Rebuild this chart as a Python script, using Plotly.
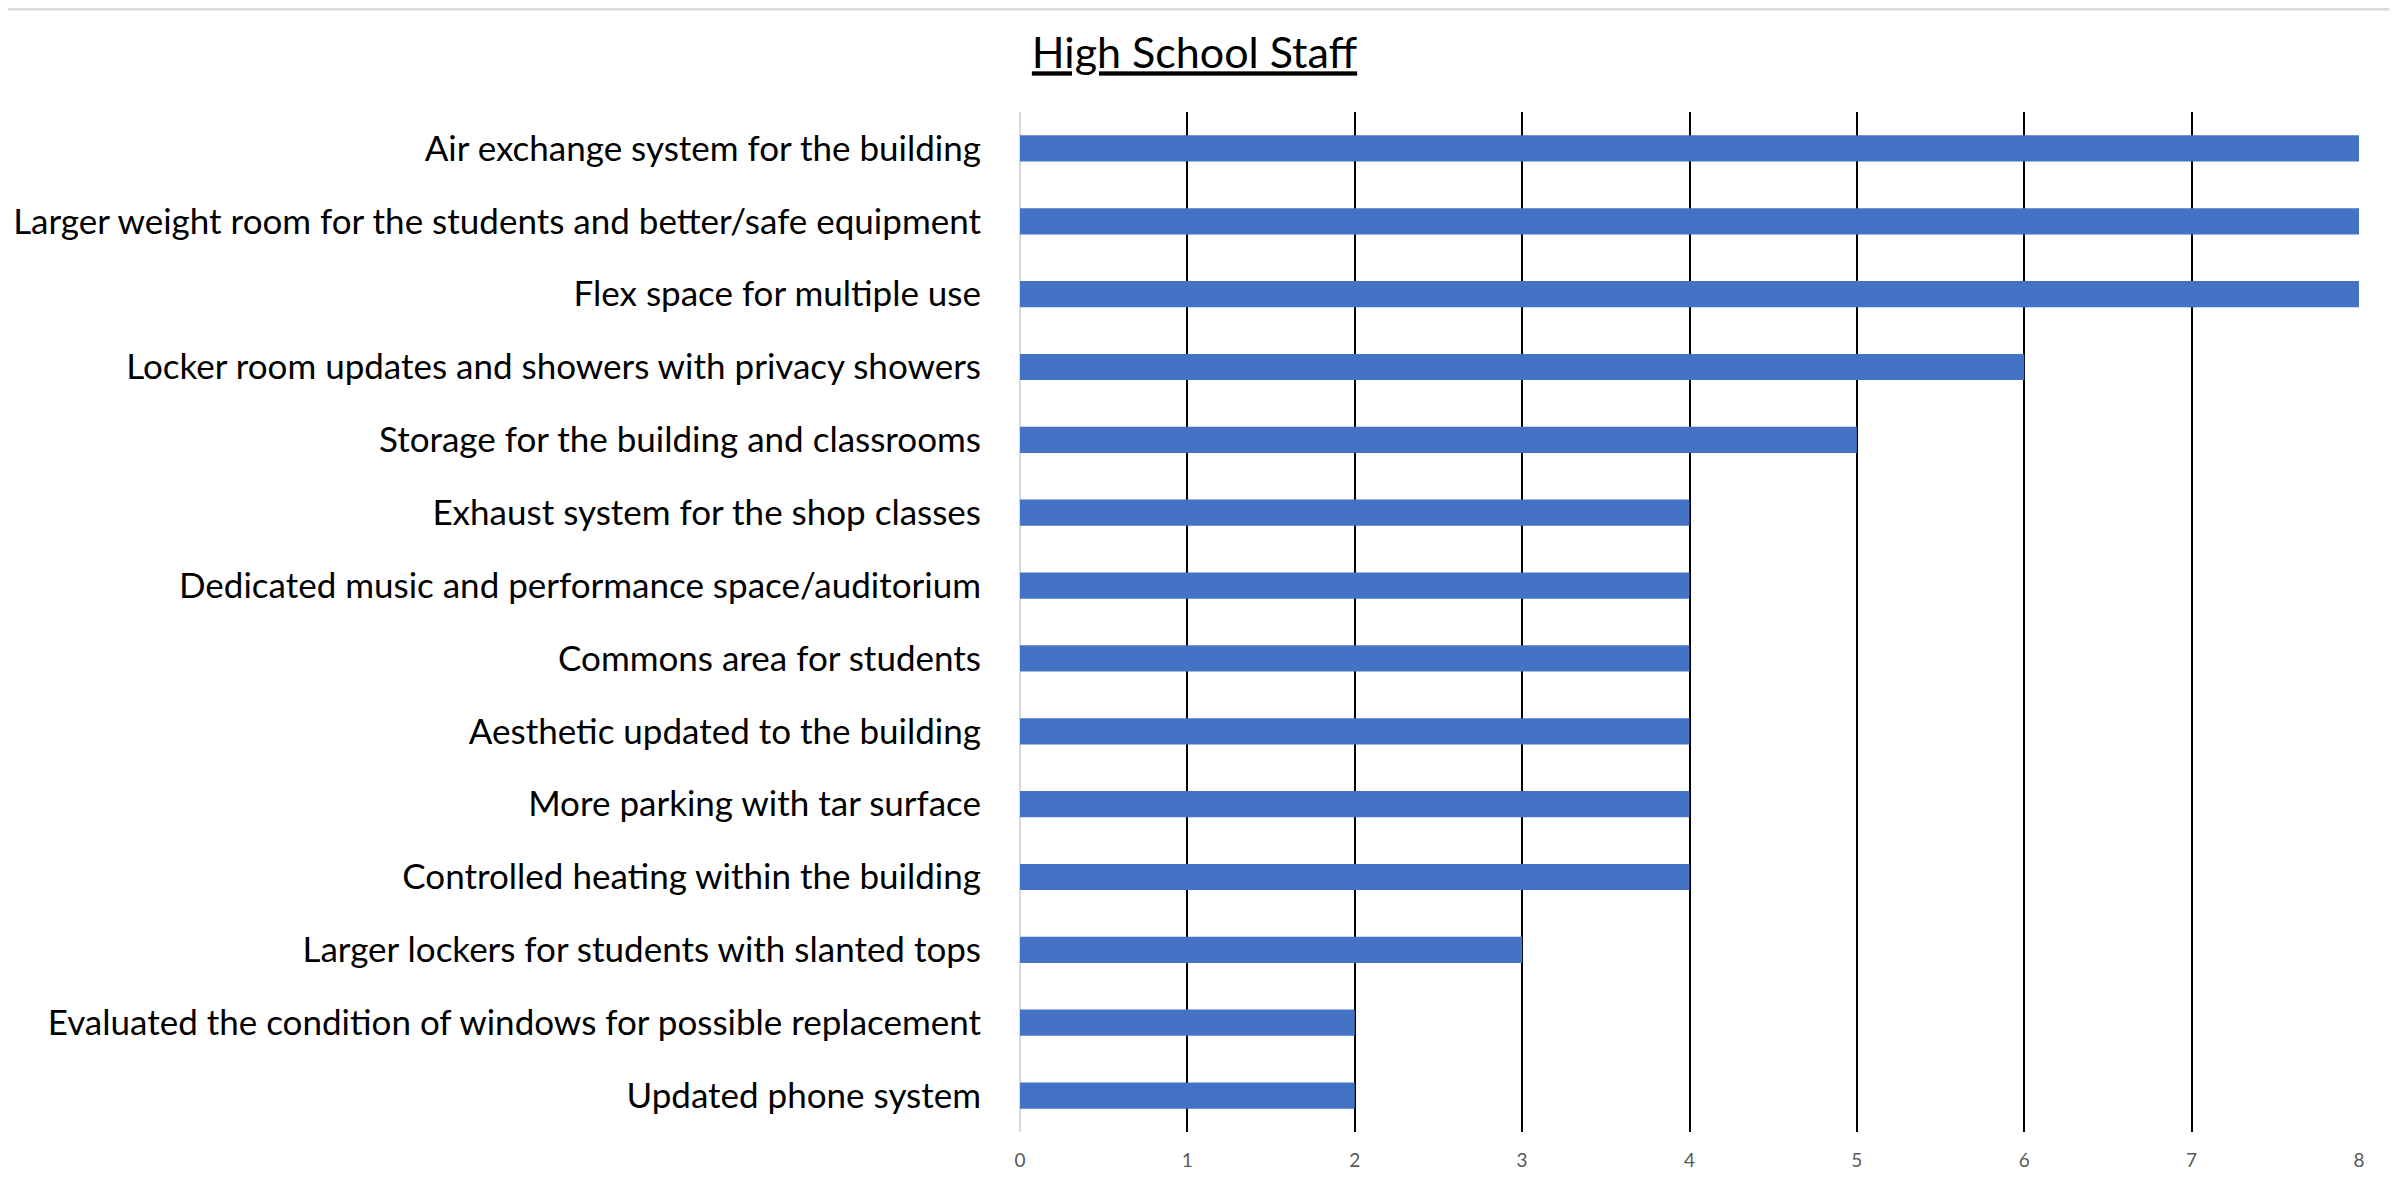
import plotly.graph_objects as go

categories = [
    "Air exchange system for the building",
    "Larger weight room for the students and better/safe equipment",
    "Flex space for multiple use",
    "Locker room updates and showers with privacy showers",
    "Storage for the building and classrooms",
    "Exhaust system for the shop classes",
    "Dedicated music and performance space/auditorium",
    "Commons area for students",
    "Aesthetic updated to the building",
    "More parking with tar surface",
    "Controlled heating within the building",
    "Larger lockers for students with slanted tops",
    "Evaluated the condition of windows for possible replacement",
    "Updated phone system",
]
counts = [8, 8, 8, 6, 5, 4, 4, 4, 4, 4, 4, 3, 2, 2]
x_ticks = [0, 1, 2, 3, 4, 5, 6, 7, 8]

fig = go.Figure()

fig.add_trace(go.Bar(
    x=counts,
    y=categories,
    orientation='h',
    marker=dict(color='#4472C4', line=dict(width=0)),
))

fig.update_layout(
    width=2397,
    height=1192,
    margin=dict(l=1012, r=46, t=104, b=68),
    paper_bgcolor='white',
    plot_bgcolor='white',
    showlegend=False,
    bargap=0.64,
    font=dict(family="Lato, sans-serif", color='black'),
    title=dict(
        text="<u>High School Staff</u>",
        x=0.495,
        xanchor='center',
        y=0.962,
        yanchor='middle',
        font=dict(size=43, color='black'),
    ),
)

fig.update_xaxes(
    range=[0, 8],
    tickvals=x_ticks,
    showgrid=True,
    gridcolor='black',
    gridwidth=2,
    zeroline=True,
    zerolinecolor='#d9d9d9',
    zerolinewidth=2,
    showline=False,
    automargin=False,
    tickfont=dict(size=19, color='#595959'),
    ticklabelstandoff=15,
)

fig.update_yaxes(
    autorange='reversed',
    showgrid=False,
    showline=False,
    automargin=False,
    tickfont=dict(size=35, color='black'),
    ticklabelstandoff=38,
)

# light frame on top and right edges
fig.add_shape(type='line', xref='paper', yref='paper',
              x0=-1.0, x1=1.03, y0=1.101, y1=1.101,
              line=dict(color='#d9d9d9', width=3))
fig.add_shape(type='line', xref='paper', yref='paper',
              x0=1.0269, x1=1.0269, y0=-0.07, y1=1.101,
              line=dict(color='#d9d9d9', width=3))

fig.write_html("out.html")
